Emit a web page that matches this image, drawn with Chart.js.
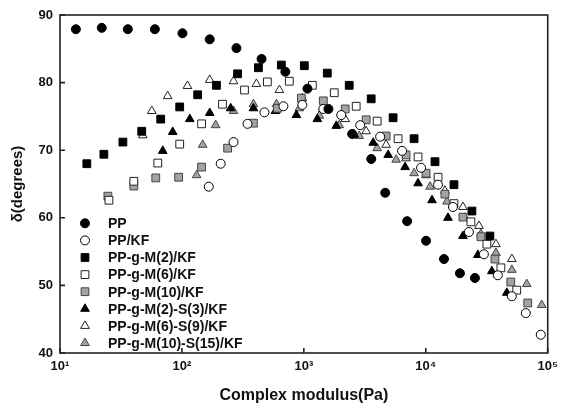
<!DOCTYPE html>
<html>
<head>
<meta charset="utf-8">
<script src="https://cdn.jsdelivr.net/npm/chart.js@4.4.1/dist/chart.umd.min.js"></script>
<style>
  html, body { margin: 0; padding: 0; background: #fff; }
  #wrap { width: 564px; height: 408px; }
</style>
</head>
<body>
<div id="wrap"><canvas id="chart" width="564" height="408"></canvas></div>
<script>
// series names (legend order)
const seriesNames = ['PP', 'PP/KF', 'PP-g-M(2)/KF', 'PP-g-M(6)/KF', 'PP-g-M(10)/KF',
  'PP-g-M(2)-S(3)/KF', 'PP-g-M(6)-S(9)/KF', 'PP-g-M(10)-S(15)/KF'];

// complex modulus (Pa) and phase angle (degrees)
const ppX = [13.5, 22, 36, 60, 101, 169, 280, 450, 705, 1070, 1590, 2490, 3570, 4650, 7030, 10050, 14100, 19050, 25300];
const ppY = [87.9, 88.1, 87.9, 87.9, 87.3, 86.4, 85.1, 83.5, 81.6, 79.1, 76.1, 72.4, 68.7, 63.7, 59.5, 56.6, 53.9, 51.8, 51.1];

const ppKfX = [166, 208, 265, 345, 475, 680, 972, 1444, 2026, 2899, 4223, 6393, 9147, 12600, 16700, 22600, 29950, 38970, 50800, 66100, 87700];
const ppKfY = [64.6, 68.0, 71.2, 73.9, 75.6, 76.5, 76.7, 76.1, 75.2, 73.7, 72.0, 69.9, 67.4, 64.9, 61.6, 57.9, 54.6, 51.5, 48.4, 45.9, 42.7];

const m2X = [16.6, 22.9, 32.8, 46.8, 67.0, 95.9, 134.6, 192, 286, 424, 654, 1009, 1556, 2355, 3566, 5394, 8017, 11900, 17030, 23900, 33560];
const m2Y = [68.0, 69.4, 71.2, 72.8, 74.6, 76.4, 78.2, 79.6, 81.3, 82.2, 82.6, 82.5, 81.4, 79.6, 77.6, 74.8, 71.7, 68.3, 64.9, 61.0, 57.3];

const m6X = [25.2, 40.3, 63.4, 95.9, 145, 215, 326, 502, 760, 1174, 1776, 2687, 3991, 5928, 8642, 12600, 17030, 23450, 31700, 41300, 55700];
const m6Y = [62.6, 65.4, 68.1, 70.9, 73.9, 76.8, 78.9, 80.1, 80.2, 79.6, 78.5, 76.5, 74.3, 71.7, 69.0, 66.0, 62.1, 59.4, 56.1, 52.6, 49.3];

const m10X = [24.7, 40.3, 61.0, 94.0, 145, 237, 386, 607, 954, 1444, 2183, 3243, 4728, 6890, 10050, 14350, 20160, 28330, 36900, 49800, 68600];
const m10Y = [63.2, 64.7, 65.9, 66.0, 67.5, 70.3, 74.0, 76.2, 77.7, 77.3, 76.1, 74.5, 72.1, 69.3, 66.6, 63.5, 60.1, 57.2, 53.9, 50.5, 47.4];

const s3X = [69.6, 84.0, 116, 169, 251, 386, 585, 869, 1290, 1844, 2588, 3704, 4915, 6765, 8642, 11250, 15200, 20160, 26750, 34800, 46200];
const s3Y = [69.9, 72.7, 74.6, 75.5, 76.2, 76.2, 75.8, 75.2, 74.6, 73.6, 72.3, 71.1, 69.3, 67.5, 65.1, 62.6, 60.0, 57.3, 54.5, 52.1, 48.9];

const s9X = [47.8, 56.6, 76.4, 111, 169, 265, 408, 630, 972, 1444, 2183, 3243, 4728, 6890, 10050, 14350, 20160, 27300, 37600, 50800];
const s9Y = [72.2, 75.8, 78.0, 79.5, 80.4, 80.2, 79.8, 78.9, 77.7, 76.1, 74.6, 72.8, 70.8, 68.8, 66.3, 64.0, 61.6, 58.8, 56.1, 53.9];

const s15X = [132, 148, 189, 265, 386, 596, 918, 1340, 1950, 2844, 3991, 5715, 8017, 10840, 14920, 20940, 28330, 37600, 50800, 67300, 89300];
const s15Y = [66.3, 70.8, 73.7, 75.8, 76.8, 76.8, 76.2, 75.1, 73.7, 72.1, 70.3, 68.6, 66.6, 64.6, 62.4, 60.0, 57.6, 54.8, 52.3, 50.2, 47.1];

// axis ticks
const xTickValues = [10, 100, 1000, 10000, 100000];
const xTickLabels = ['10\u00b9', '10\u00b2', '10\u00b3', '10\u2074', '10\u2075'];
const yTickValues = [40, 50, 60, 70, 80, 90];

const GRAY = '#a3a3a3';
const markers = [
  { style: 'circle',   fill: '#000', border: '#000', r: 4.5 },
  { style: 'circle',   fill: '#fff', border: '#000', r: 4.5 },
  { style: 'rect',     fill: '#000', border: '#000', r: 5.5 },
  { style: 'rect',     fill: '#fff', border: '#222', r: 5.5 },
  { style: 'rect',     fill: GRAY,   border: '#444', r: 5.5 },
  { style: 'triangle', fill: '#000', border: '#000', r: 5 },
  { style: 'triangle', fill: '#fff', border: '#222', r: 5 },
  { style: 'triangle', fill: GRAY,   border: '#444', r: 5 }
];

const xs = [ppX, ppKfX, m2X, m6X, m10X, s3X, s9X, s15X];
const ys = [ppY, ppKfY, m2Y, m6Y, m10Y, s3Y, s9Y, s15Y];

const datasets = seriesNames.map((name, i) => ({
  label: name,
  data: xs[i].map((x, j) => ({ x: x, y: ys[i][j] })),
  pointStyle: markers[i].style,
  pointRadius: markers[i].r,
  pointBackgroundColor: markers[i].fill,
  pointBorderColor: markers[i].border,
  pointBorderWidth: 1,
  showLine: false
}));

function drawMarker(ctx, m, x, y) {
  ctx.beginPath();
  if (m.style === 'circle') {
    ctx.arc(x, y, m.r, 0, Math.PI * 2);
  } else if (m.style === 'rect') {
    const s = m.r * Math.SQRT1_2;
    ctx.rect(x - s, y - s, 2 * s, 2 * s);
  } else {
    for (let k = 0; k < 3; k++) {
      const a = k * 2 * Math.PI / 3;
      const px = x + Math.sin(a) * m.r, py = y - Math.cos(a) * m.r;
      if (k === 0) ctx.moveTo(px, py); else ctx.lineTo(px, py);
    }
    ctx.closePath();
  }
  ctx.fillStyle = m.fill;
  ctx.strokeStyle = m.border;
  ctx.lineWidth = 1;
  ctx.fill();
  ctx.stroke();
}

// box frame, inward tick marks and the legend inside the plot
const frameAndLegend = {
  id: 'frameAndLegend',
  afterDatasetsDraw(chart) {
    const { ctx, chartArea: a, scales: { x, y } } = chart;
    ctx.save();
    ctx.strokeStyle = '#222';
    ctx.lineWidth = 1.6;
    ctx.strokeRect(a.left, a.top, a.right - a.left, a.bottom - a.top);
    ctx.beginPath();
    xTickValues.forEach(v => {
      const px = x.getPixelForValue(v);
      ctx.moveTo(px, a.bottom);
      ctx.lineTo(px, a.bottom - 5);
    });
    yTickValues.forEach(v => {
      const py = y.getPixelForValue(v);
      ctx.moveTo(a.left, py);
      ctx.lineTo(a.left + 5, py);
    });
    ctx.stroke();

    ctx.font = 'bold 14px "Liberation Sans", Arial, sans-serif';
    ctx.textBaseline = 'middle';
    ctx.textAlign = 'left';
    seriesNames.forEach((name, i) => {
      const cy = a.bottom - 10 - (seriesNames.length - 1 - i) * 17.1;
      drawMarker(ctx, markers[i], a.left + 25, cy);
      ctx.fillStyle = '#111';
      ctx.fillText(name, a.left + 48, cy + 1);
    });
    ctx.restore();
  }
};

new Chart(document.getElementById('chart'), {
  type: 'scatter',
  data: { datasets: datasets },
  options: {
    responsive: false,
    animation: false,
    layout: { padding: { top: 15, right: 14, left: 0, bottom: 0 } },
    plugins: { legend: { display: false }, tooltip: { enabled: false } },
    scales: {
      x: {
        type: 'logarithmic',
        min: 10,
        max: 100000,
        grid: { display: false, drawTicks: false },
        border: { display: false },
        afterFit(s) { s.height = 55; },
        ticks: {
          autoSkip: false,
          maxRotation: 0,
          padding: 6,
          color: '#111',
          font: { family: '"Liberation Sans", Arial, sans-serif', size: 13, weight: 'bold' },
          callback(v) {
            const i = xTickValues.findIndex(t => Math.abs(t - v) < 1e-6 * t);
            return i >= 0 ? xTickLabels[i] : '';
          }
        },
        title: {
          display: true,
          text: 'Complex modulus(Pa)',
          color: '#111',
          padding: { top: 0, bottom: 3 },
          font: { family: '"Liberation Sans", Arial, sans-serif', size: 16, weight: 'bold' }
        }
      },
      y: {
        min: 40,
        max: 90,
        grid: { display: false, drawTicks: false },
        border: { display: false },
        afterFit(s) { s.width = 60; },
        ticks: {
          stepSize: 10,
          padding: 7,
          color: '#111',
          font: { family: '"Liberation Sans", Arial, sans-serif', size: 13, weight: 'bold' }
        },
        title: {
          display: true,
          text: '\u03b4(degrees)',
          color: '#111',
          padding: { top: 9, bottom: 0 },
          font: { family: '"Liberation Sans", Arial, sans-serif', size: 15, weight: 'bold' }
        }
      }
    }
  },
  plugins: [frameAndLegend]
});
</script>
</body>
</html>
